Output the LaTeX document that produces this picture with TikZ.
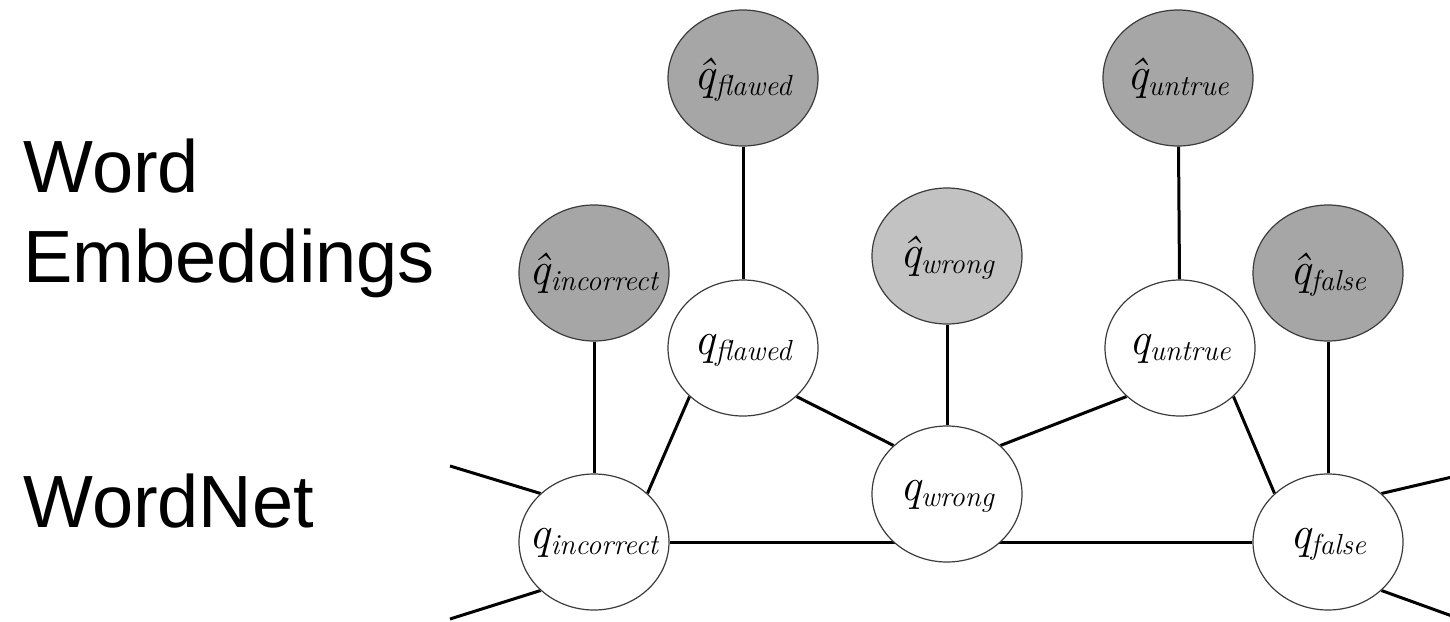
\documentclass[tikz,border=0pt]{standalone}
\usepackage{fontspec}
\usetikzlibrary{shapes.geometric,backgrounds}
\newfontfamily\labelfont{Liberation Sans}
\definecolor{embgray}{RGB}{166,166,166}
\definecolor{embgraylight}{RGB}{194,194,194}
\definecolor{rim}{RGB}{60,60,60}
\tikzset{
    %Define standard word node
    word/.style={ellipse, draw=rim, line width=1.2pt, fill=white,
        minimum width=150pt, minimum height=136pt, inner sep=0pt},
    emb/.style={word, fill=embgray},
    link/.style={line width=3pt, black},
    side/.style={anchor=base west, font=\labelfont\fontsize{74}{80}\selectfont}
}
% label kept out of the node size, so all ellipses stay the same
\def\qword#1#2{{\fontsize{46}{46}\selectfont\itshape q#1}\raisebox{-6pt}{\fontsize{29}{29}\selectfont\itshape #2}}
\def\qlab#1{\makebox[0pt]{\raisebox{-6pt}[0pt][0pt]{\qword{}{#1}}}}
\def\hlab#1{\makebox[0pt]{\raisebox{-11pt}[0pt][0pt]{\qword{\char"0302}{#1}}}}

\begin{document}
\begin{tikzpicture}[x=1pt,y=-1pt]
    \useasboundingbox (0,0) rectangle (1450,621);
    \node[side] (word) at (20,192) {Word};
    \node[side] (embed) at (20,282) {Embeddings};
    \node[side] (wordnet) at (20,527) {WordNet};
    % embeddings
    \node[emb] (hinc) at (594,273) {\hlab{incorrect}};
    \node[emb] (hflawed) at (743,78) {\hlab{flawed}};
    \node[emb, fill=embgraylight] (hwrong) at (947,256) {\hlab{wrong}};
    \node[emb] (huntrue) at (1178,78) {\hlab{untrue}};
    \node[emb] (hfalse) at (1328,273) {\hlab{false}};
    % wordnet
    \node[word] (qinc) at (594,542) {\qlab{incorrect}};
    \node[word] (qflawed) at (743,348) {\qlab{flawed}};
    \node[word] (qwrong) at (947,494) {\qlab{wrong}};
    \node[word] (quntrue) at (1180,348) {\qlab{untrue}};
    \node[word] (qfalse) at (1328,542) {\qlab{false}};
    \coordinate (inA) at (450,466);
    \coordinate (inB) at (450,619);
    \coordinate (outA) at (1452,477);
    \coordinate (outB) at (1452,616);
    \begin{scope}[on background layer]
        \foreach \a/\b in {hinc/qinc,hflawed/qflawed,hwrong/qwrong,huntrue/quntrue,hfalse/qfalse}{
            \draw[link] (\a) -- (\b);
        }
        \draw[link] (qinc.north east) -- (qflawed.south west);
        \draw[link] (qflawed.south east) -- (qwrong.north west);
        \draw[link] (qwrong.north east) -- (quntrue.south west);
        \draw[link] (quntrue.south east) -- (qfalse.north west);
        \draw[link] (qinc) -- (qinc -| qwrong);
        \draw[link] (qwrong |- qfalse) -- (qfalse);
        \draw[link] (inA) -- (qinc.north west);
        \draw[link] (inB) -- (qinc.south west);
        \draw[link] (qfalse.north east) -- (outA);
        \draw[link] (qfalse.south east) -- (outB);
    \end{scope}
\end{tikzpicture}
\end{document}
